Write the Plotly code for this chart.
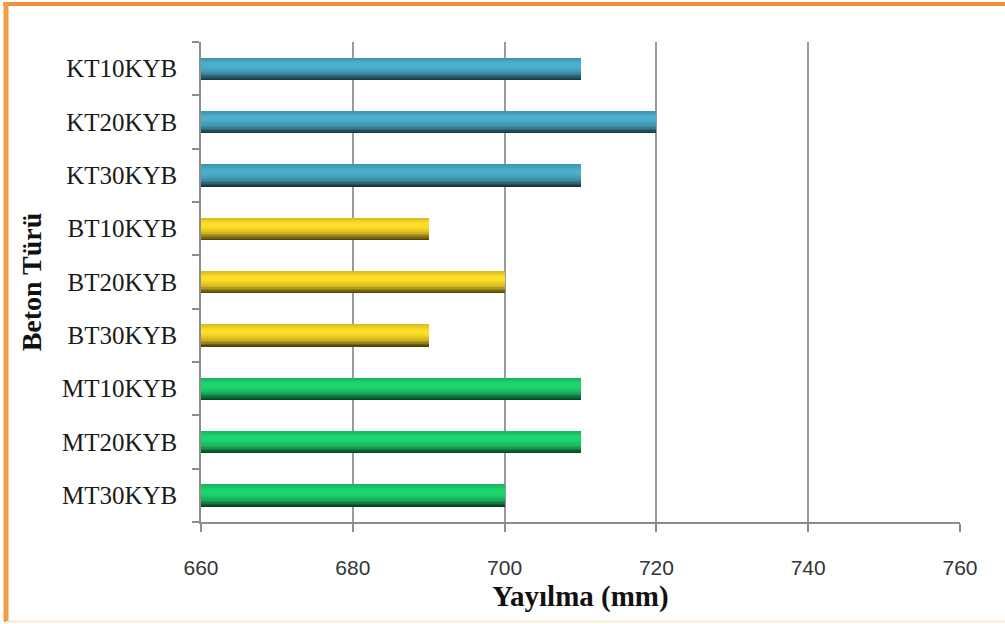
import plotly.graph_objects as go

# Concrete mixes, listed bottom to top on the category axis
mixes = ["MT30KYB", "MT20KYB", "MT10KYB",
         "BT30KYB", "BT20KYB", "BT10KYB",
         "KT30KYB", "KT20KYB", "KT10KYB"]
spread_mm = [700, 710, 710,
             690, 700, 690,
             710, 720, 710]
group = ["MT", "MT", "MT", "BT", "BT", "BT", "KT", "KT", "KT"]

x_ticks = [660, 680, 700, 720, 740, 760]

# Highlight colour for each group; the cylinder shading darkens it
group_rgb = {"KT": (76, 176, 204), "BT": (255, 222, 40), "MT": (30, 214, 112)}

# Lightness profile across the bar thickness, bottom edge -> top edge
shade = [0.32, 0.45, 0.58, 0.7, 0.8, 0.87, 0.92, 0.96, 0.99, 1.0, 1.0, 0.97, 0.92, 0.86]

W, H = 1005, 624
L, R, T, B = 201, 45, 42, 102
bar_w = 0.41

fig = go.Figure()

n = len(shade)
strip = bar_w / n
for i, f in enumerate(shade):
    cols = []
    for g in group:
        r, gg, b = group_rgb[g]
        cols.append(f"rgb({int(r*f)},{int(gg*f)},{int(b*f)})")
    fig.add_trace(go.Bar(
        y=mixes, x=spread_mm, orientation="h",
        width=strip * 1.08, offset=-bar_w / 2 + i * strip,
        marker=dict(color=cols, line=dict(width=0)),
        showlegend=False, hoverinfo="x+y",
    ))


def px_x(p):
    return (p - L) / (W - L - R)


def px_y(p):
    return 1 - (p - T) / (H - T - B)


# orange frame (top, left, faint bottom)
fig.add_shape(type="line", xref="paper", yref="paper",
              x0=px_x(3), x1=px_x(1005), y0=px_y(4), y1=px_y(4),
              line=dict(color="#F0903A", width=4))
fig.add_shape(type="line", xref="paper", yref="paper",
              x0=px_x(6), x1=px_x(6), y0=px_y(2), y1=px_y(622),
              line=dict(color="#F39A45", width=5))
fig.add_shape(type="line", xref="paper", yref="paper",
              x0=px_x(6), x1=px_x(1005), y0=px_y(621.5), y1=px_y(621.5),
              line=dict(color="#FBE1C8", width=1.5))

fig.update_layout(
    width=W, height=H,
    margin=dict(l=L, r=R, t=T, b=B),
    paper_bgcolor="white", plot_bgcolor="white",
    barmode="overlay", bargap=0,
    xaxis=dict(
        range=[660, 760], tickvals=x_ticks,
        showgrid=True, gridcolor="#9a9a9a", gridwidth=1.5,
        zeroline=False,
        showline=True, linecolor="#8c8c8c", linewidth=1.5,
        ticks="outside", ticklen=8, tickcolor="#8c8c8c", tickwidth=1.5,
        ticklabelstandoff=18,
        tickfont=dict(family="Liberation Sans", size=21, color="#333333"),
        title=dict(text="<b>Yayılma (mm)</b>", standoff=8,
                   font=dict(family="Liberation Serif", size=29, color="#111111")),
    ),
    yaxis=dict(
        categoryorder="array", categoryarray=mixes,
        range=[-0.5, 8.5],
        showgrid=False, zeroline=False,
        showline=True, linecolor="#8c8c8c", linewidth=1.5,
        ticks="outside", tickson="boundaries", ticklen=7,
        tickcolor="#8c8c8c", tickwidth=1.5,
        ticklabelstandoff=17,
        tickfont=dict(family="Liberation Serif", size=25, color="#1a1a1a"),
        title=dict(text="<b>Beton Türü</b>", standoff=12,
                   font=dict(family="Liberation Serif", size=28, color="#111111")),
    ),
)

fig.write_html("out.html")
